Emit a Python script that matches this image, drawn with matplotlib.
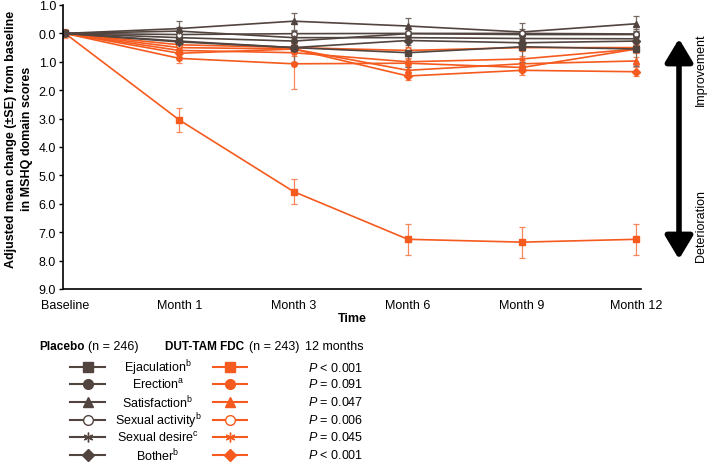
import matplotlib
matplotlib.use('Agg')
import matplotlib.pyplot as plt
from matplotlib.lines import Line2D
from matplotlib.patches import FancyArrowPatch

plt.rcParams['font.family'] = ['Liberation Sans', 'DejaVu Sans']
plt.rcParams['mathtext.fontset'] = 'custom'
plt.rcParams['mathtext.rm'] = 'Liberation Sans'
plt.rcParams['mathtext.it'] = 'Liberation Sans:italic'
plt.rcParams['mathtext.bf'] = 'Liberation Sans:bold'

timepoints = ['Baseline', 'Month 1', 'Month 3', 'Month 6', 'Month 9', 'Month 12']
domains = ['Ejaculation', 'Erection', 'Satisfaction', 'Sexual activity', 'Sexual desire', 'Bother']
superscripts = ['b', 'a', 'b', 'b', 'c', 'b']
p_values = ['< 0.001', '= 0.091', '= 0.047', '= 0.006', '= 0.045', '< 0.001']

# mean change from baseline (positive = deterioration)
placebo_ejac = [0, 0.27, 0.50, 0.68, 0.47, 0.55]
placebo_erect = [0, 0.15, 0.27, 0.01, 0.04, 0.04]
placebo_satis = [0, -0.17, -0.43, -0.26, -0.05, -0.34]
placebo_activity = [0, 0.04, 0.01, 0.00, 0.00, 0.02]
placebo_desire = [0, -0.08, 0.15, 0.15, 0.18, 0.19]
placebo_bother = [0, 0.30, 0.50, 0.25, 0.33, 0.27]

placebo_ejac_se = [0.05, 0.45, 0.50, 0.52, 0.55, 0.60]
placebo_erect_se = [0.05, 0.20, 0.20, 0.20, 0.20, 0.20]
placebo_satis_se = [0.05, 0.27, 0.30, 0.27, 0.33, 0.27]
placebo_activity_se = [0.05, 0.10, 0.10, 0.10, 0.10, 0.10]
placebo_desire_se = [0.05, 0.15, 0.15, 0.15, 0.15, 0.15]
placebo_bother_se = [0.05, 0.15, 0.15, 0.15, 0.15, 0.15]

dut_ejac = [0, 3.05, 5.57, 7.25, 7.35, 7.25]
dut_erect = [0, 0.88, 1.07, 1.05, 1.20, 0.55]
dut_satis = [0, 0.50, 0.55, 1.30, 1.07, 0.97]
dut_activity = [0, 0.40, 0.50, 0.60, 0.50, 0.50]
dut_desire = [0, 0.60, 0.68, 1.00, 0.90, 0.55]
dut_bother = [0, 0.70, 0.55, 1.50, 1.30, 1.35]

dut_ejac_se = [0.15, 0.42, 0.45, 0.55, 0.55, 0.55]
dut_erect_se = [0.10, 0.15, 0.90, 0.15, 0.15, 0.15]
dut_satis_se = [0.10, 0.15, 0.15, 0.15, 0.15, 0.15]
dut_activity_se = [0.10, 0.12, 0.12, 0.12, 0.12, 0.12]
dut_desire_se = [0.10, 0.12, 0.12, 0.12, 0.12, 0.12]
dut_bother_se = [0.10, 0.15, 0.15, 0.15, 0.15, 0.15]

placebo = [placebo_ejac, placebo_erect, placebo_satis, placebo_activity, placebo_desire, placebo_bother]
placebo_se = [placebo_ejac_se, placebo_erect_se, placebo_satis_se, placebo_activity_se, placebo_desire_se, placebo_bother_se]
dut = [dut_ejac, dut_erect, dut_satis, dut_activity, dut_desire, dut_bother]
dut_se = [dut_ejac_se, dut_erect_se, dut_satis_se, dut_activity_se, dut_desire_se, dut_bother_se]

markers = ['s', 'o', '^', 'o', (6, 2, 0), 'D']
open_marker = [False, False, False, True, False, False]
gray = '#52443f'
gray_err = '#756964'
orange = '#f55a1e'
orange_err = '#f7875a'

fig = plt.figure(figsize=(7.09, 4.64), dpi=100)
ax = fig.add_axes([63 / 709, 1 - 290 / 464, (641 - 63) / 709, (290 - 6) / 464])

x = list(range(len(timepoints)))
for series, errs, col, ecol in [(dut, dut_se, orange, orange_err), (placebo, placebo_se, gray, gray_err)]:
    for i in range(len(domains)):
        ax.errorbar(x, series[i], yerr=errs[i], color=col, ecolor=ecol, marker=markers[i],
                    markersize=4, markerfacecolor='white' if open_marker[i] else col,
                    markeredgecolor=col, lw=1.2, elinewidth=0.9, capsize=2, capthick=0.9)

ax.set_ylim(9, -1)
ax.set_xlim(-0.018, 5.04)
yt = list(range(-1, 10))
ax.set_yticks(yt)
ax.set_yticklabels(['%.1f' % abs(v) for v in yt], fontsize=9)
ax.set_xticks(x)
ax.set_xticklabels(timepoints, fontsize=9)
ax.tick_params(axis='x', length=0, pad=7)
ax.tick_params(axis='y', length=3, width=1, pad=2)
for s in ['top', 'right']:
    ax.spines[s].set_visible(False)
for s in ['left', 'bottom']:
    ax.spines[s].set_linewidth(1.2)
ax.set_xlabel('Time', fontsize=9, fontweight='bold', labelpad=1)
fig.text(19 / 709, 1 - 139 / 464, 'Adjusted mean change (\u00b1SE) from baseline\nin MSHQ domain scores',
         rotation=90, ha='center', va='center', fontsize=9, fontweight='bold', linespacing=1.45,
         multialignment='center')

# improvement / deterioration arrow
arrow = FancyArrowPatch((679 / 709, 1 - 263 / 464), (679 / 709, 1 - 37 / 464),
                        transform=fig.transFigure, arrowstyle='<|-|>,head_length=1.0,head_width=0.6',
                        mutation_scale=14, lw=4, color='black')
fig.patches.append(arrow)
fig.text(701 / 709, 1 - 70 / 464, 'Improvement', rotation=90, ha='center', va='center', fontsize=9)
fig.text(701 / 709, 1 - 226 / 464, 'Deterioration', rotation=90, ha='center', va='center', fontsize=9)

# legend table
hy = 1 - 347 / 464
fig.text(39 / 709, hy, 'Placebo', fontsize=8.5, fontweight='bold', va='center')
fig.text(88 / 709, hy, '(n = 246)', fontsize=9, va='center')
fig.text(165 / 709, hy, 'DUT-TAM FDC', fontsize=8.5, fontweight='bold', va='center')
fig.text(249 / 709, hy, '(n = 243)', fontsize=9, va='center')
fig.text(305 / 709, hy, '12 months', fontsize=9, va='center')
rows_y = [368, 385, 403, 421, 438, 456]
for i in range(len(domains)):
    ry = 1 - rows_y[i] / 464
    for x0, x1, col in [(70, 105, gray), (213, 247, orange)]:
        fig.add_artist(Line2D([x0 / 709, x1 / 709], [ry, ry], transform=fig.transFigure, color=col, lw=1.5))
        fig.add_artist(Line2D([(x0 + x1) / 2 / 709], [ry], transform=fig.transFigure, color=col,
                              marker=markers[i], markersize=7 if markers[i] != 'D' else 6,
                              markerfacecolor='white' if open_marker[i] else col, markeredgecolor=col,
                              markeredgewidth=1))
    fig.text(158 / 709, ry, domains[i] + '$^{\\mathrm{' + superscripts[i] + '}}$', fontsize=9,
             ha='center', va='center')
    fig.text(308 / 709, ry, '$P$ ' + p_values[i], fontsize=9, ha='left', va='center')

fig.savefig('out.png', dpi=100)
